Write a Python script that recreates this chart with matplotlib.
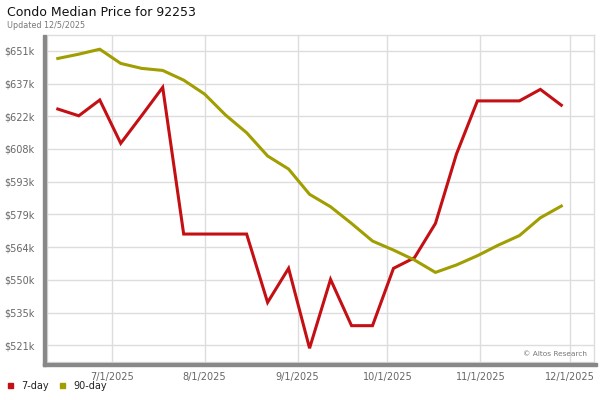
import matplotlib
matplotlib.use("Agg")
import matplotlib.pyplot as plt
import matplotlib.dates as mdates
from matplotlib.patches import Rectangle
import numpy as np
import datetime as dt

# ---- data ----
start_date = "2025-06-13"
n_weeks = 25
dates = np.arange(np.datetime64(start_date), np.datetime64(start_date) + np.timedelta64(7 * n_weeks, "D"), np.timedelta64(7, "D"))

day7 = [625.7, 622.7, 629.7, 610.5, 622.8, 635.3, 570.3, 570.3, 570.3, 570.3,
        540.0, 555.1, 519.7, 550.2, 529.7, 529.7, 555.1, 559.8, 575.0, 605.7,
        629.3, 629.3, 629.3, 634.4, 627.4]
day90 = [648.1, 650.0, 652.2, 645.9, 643.7, 642.8, 638.5, 632.3, 623.0, 615.2,
         604.9, 599.1, 587.9, 582.4, 575.0, 567.2, 563.2, 558.8, 553.3, 556.6,
         560.7, 565.4, 569.6, 577.5, 582.7]

ytick_vals = [521, 535.5, 550, 564.5, 579, 593.5, 608, 622.5, 637, 651.5]
ytick_labels = ["$521k", "$535k", "$550k", "$564k", "$579k", "$593k", "$608k", "$622k", "$637k", "$651k"]
xtick_dates = ["2025-07-01", "2025-08-01", "2025-09-01", "2025-10-01", "2025-11-01", "2025-12-01"]
xtick_labels = ["7/1/2025", "8/1/2025", "9/1/2025", "10/1/2025", "11/1/2025", "12/1/2025"]
series_names = ["7-day", "90-day"]
colors = ["#c41014", "#a09e00"]

# ---- figure ----
W, H = 600, 400
fig = plt.figure(figsize=(6, 4), dpi=100)
L, R, T, B = 47, 594, 35, 362
ax = fig.add_axes([L / W, 1 - B / H, (R - L) / W, (B - T) / H])

xd = mdates.date2num(dates.astype("datetime64[D]").astype(object))
ax.plot(xd, day7, color=colors[0], lw=2.2, solid_joinstyle="miter", zorder=3)
ax.plot(xd, day90, color=colors[1], lw=2.2, solid_joinstyle="miter", zorder=3)

x0 = mdates.date2num(dt.date(2025, 7, 1))
x1 = mdates.date2num(dt.date(2025, 12, 1))
ax.set_xlim(x0 - 21.6, x1 + 7.9)
ax.set_ylim(513.6, 658.5)

xt = [mdates.date2num(dt.date.fromisoformat(d)) for d in xtick_dates]
ax.set_xticks(xt)
ax.set_xticklabels(xtick_labels)
ax.set_yticks(ytick_vals)
ax.set_yticklabels(ytick_labels)
ax.tick_params(axis="both", length=0, labelsize=7, labelcolor="#666666")
ax.tick_params(axis="x", pad=7)
ax.tick_params(axis="y", pad=9)
ax.grid(True, color="#dddddd", lw=1)
ax.set_axisbelow(True)
for s in ax.spines.values():
    s.set_color("#dddddd")
    s.set_linewidth(1)

# thick gray axis bars
fig.patches.append(Rectangle((43 / W, 1 - 366 / H), 3 / W, (366 - 35) / H,
                             transform=fig.transFigure, color="#888888", zorder=5))
fig.patches.append(Rectangle((43 / W, 1 - 366 / H), (597 - 43) / W, 3 / H,
                             transform=fig.transFigure, color="#888888", zorder=5))

# texts
fig.text(7 / W, 1 - 13 / H, "Condo Median Price for 92253", fontsize=9, color="#111111",
         ha="left", va="center")
fig.text(7 / W, 1 - 25 / H, "Updated 12/5/2025", fontsize=5.8, color="#777777",
         ha="left", va="center")
fig.text(587 / W, 1 - 354 / H, "\u00a9 Altos Research", fontsize=5.3, color="#777777",
         ha="right", va="center")

# legend
leg_x = [8, 60]
txt_x = [21, 73]
for i, name in enumerate(series_names):
    fig.patches.append(Rectangle((leg_x[i] / W, 1 - 388 / H), 5 / W, 5 / H,
                                 transform=fig.transFigure, color=colors[i]))
    fig.text(txt_x[i] / W, 1 - 386 / H, name, fontsize=7, color="#222222",
             ha="left", va="center")

fig.savefig("out.png", dpi=100)
